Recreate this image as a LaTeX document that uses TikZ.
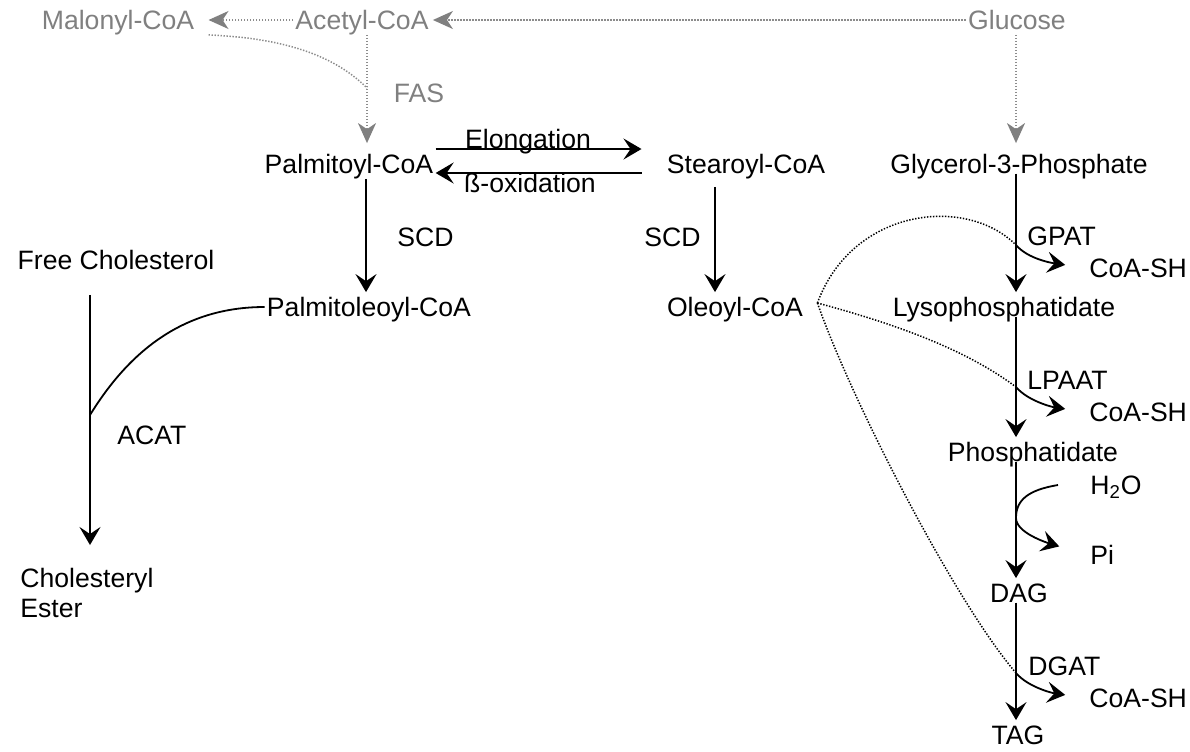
\documentclass[tikz,border=0pt]{standalone}
\usepackage{fontspec}
\setmainfont{Liberation Sans}
\usepackage{tikz}
\usetikzlibrary{arrows.meta}

\definecolor{fadetext}{gray}{0.5}
\definecolor{fadeline}{gray}{0.55}

\begin{document}
\begin{tikzpicture}[
    x=0.5pt, y=-0.5pt,
    font=\fontsize{13.3}{15}\selectfont,
    chem/.style={inner sep=1pt, text height=11pt, text depth=1.5pt},
    enz/.style={chem, anchor=west},
    rxn/.style={-{Stealth[length=9pt, width=10.5pt, inset=3.5pt]}, line width=0.9pt},
    side/.style={line width=0.9pt},
    donor/.style={line width=0.75pt, dash pattern=on 0.7pt off 0.8pt},
    supply/.style={
        fadeline,
        line width=0.7pt,
        dash pattern=on 0.7pt off 0.8pt,
        -{Stealth[length=10pt, width=9pt, inset=3pt, fadetext]}
    }
]
\useasboundingbox (0,0) rectangle (1190,751);

\def\xg{1016}
\def\xc{90}

% Precursors
\node[chem, fadetext] (mal)  at (118,20) {Malonyl-CoA};
\node[chem, fadetext] (acoa) at (362,20) {Acetyl-CoA};
\node[chem, fadetext] (glc)  at (1017,20) {Glucose};
\node[chem, fadetext] (fas)  at (419,93) {FAS};

% Acyl-CoA
\node[chem] (pal)  at (349,164) {Palmitoyl-CoA};
\node[chem] (ste)  at (746,164) {Stearoyl-CoA};
\node[chem] (palo) at (369,307) {Palmitoleoyl-CoA};
\node[chem] (ole)  at (735,307) {Oleoyl-CoA};
\node[chem] (elo)  at (528,139) {Elongation};
\node[chem] (box)  at (530,183) {ß-oxidation};
\node[enz] (scda) at (395,237) {SCD};
\node[enz] (scdb) at (642,237) {SCD};

% Cholesterol
\node[chem] (fc) at (116,260) {Free Cholesterol};
\node[enz] (acat) at (115,435) {ACAT};
\node[inner sep=1pt, align=left, anchor=north west] (ce) at (18,566) {Cholesteryl\\Ester};

% Glycerolipids
\node[chem] (g3p) at (1019,164) {Glycerol-3-Phosphate};
\node[chem] (lpa) at (1004,307) {Lysophosphatidate};
\node[chem] (pa)  at (1033,452) {Phosphatidate};
\node[chem] (dag) at (1019,593) {DAG};
\node[chem] (tag) at (1018,735) {TAG};
\node[enz] (gpat)  at (1025,236) {GPAT};
\node[enz] (lpaat) at (1025,380) {LPAAT};
\node[enz] (dgat)  at (1026,666) {DGAT};
\node[enz] (coa1)  at (1087,268) {CoA-SH};
\node[enz] (coa2)  at (1087,412) {CoA-SH};
\node[enz] (coa3)  at (1087,698) {CoA-SH};
\node[enz] (h2o)   at (1088,485) {H\textsubscript{2}O};
\node[enz] (pi)    at (1088,555) {Pi};

% Junctions
\coordinate (fasj)   at (367,88);
\coordinate (scdl)   at (366,240);
\coordinate (scds)   at (715,240);
\coordinate (acatj)  at (\xc,415);
\coordinate (gpatj)  at (\xg,245);
\coordinate (lpaatj) at (\xg,387);
\coordinate (ppj)    at (\xg,518);
\coordinate (dgatj)  at (\xg,673);

% De novo supply
\draw[supply, shorten >=6pt] (acoa.west) -- (mal.east);
\draw[supply, shorten >=1pt] (glc.west) -- (acoa.east);
\draw[supply, shorten >=3pt] (acoa.south -| fasj) -- (pal.north -| fasj);
\draw[supply, shorten >=3pt] (glc.south -| gpatj) -- (g3p.north -| gpatj);
\draw[donor, fadeline] ([xshift=6pt]mal.south east) .. controls +(70,3) and +(-35,-35) .. (fasj);

% Elongation / desaturation
\draw[rxn, shorten >=11.5pt] ([yshift=7.5pt]pal.east) -- ([yshift=7.5pt]ste.west);
\draw[rxn, shorten <=11.5pt] ([yshift=-4.5pt]ste.west) -- ([yshift=-4.5pt]pal.east);
\draw[rxn] (pal.south -| scdl) -- (palo.north -| scdl);
\draw[rxn, shorten <=4pt] (ste.south -| scds) -- (ole.north -| scds);

% Esterification of cholesterol
\draw[rxn, shorten <=10pt, shorten >=10.5pt] (fc.south -| acatj) -- (ce.north -| acatj);
\draw[side] (palo.west) .. controls +(-80,0) and +(40,-65) .. (acatj);

% Glycerolipid synthesis
\draw[rxn] (g3p.base -| gpatj) -- (lpa.north -| gpatj);
\draw[rxn] (lpa.base -| gpatj) -- (pa.north -| gpatj);
\draw[rxn] (pa.base -| gpatj) -- (dag.north -| gpatj);
\draw[rxn] (dag.base -| gpatj) -- (tag.north -| gpatj);
\draw[rxn, shorten >=11pt] (gpatj) .. controls +(12,14) and +(-35,-5) .. (coa1.west);
\draw[rxn, shorten >=11pt] (lpaatj) .. controls +(12,14) and +(-35,-5) .. (coa2.west);
\draw[rxn, shorten >=11pt] (dgatj) .. controls +(12,14) and +(-35,-5) .. (coa3.west);
\draw[side] ([xshift=-15pt]h2o.west) .. controls +(-30,5) and +(0,-18) .. (ppj);
\draw[rxn, shorten >=15pt] (ppj) .. controls +(0,15) and +(-40,-12) .. (pi.west);

% Oleoyl-CoA as acyl donor
\draw[donor] ([xshift=6pt,yshift=2pt]ole.east) .. controls +(35,-95) and +(-50,-50) .. (gpatj);
\draw[donor] ([xshift=6pt,yshift=2pt]ole.east) .. controls +(63,17) and +(-56,-42) .. (lpaatj);
\draw[donor] ([xshift=6pt,yshift=2pt]ole.east) .. controls +(35,100) and +(-60,-70) .. (dgatj);

\end{tikzpicture}
\end{document}
